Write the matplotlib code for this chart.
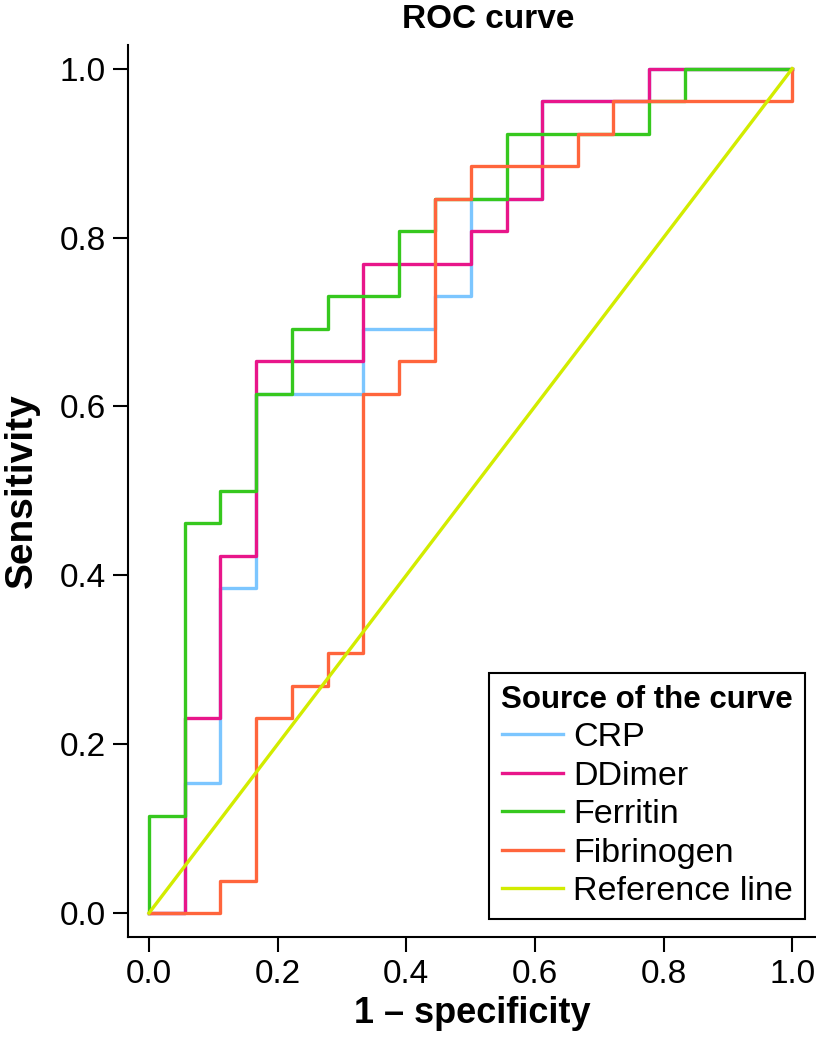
import matplotlib
matplotlib.use("Agg")
import matplotlib.pyplot as plt

# ROC points (steps-post staircase)
crp_fpr = [0.0, 0.056, 0.111, 0.167, 0.333, 0.444, 0.500, 0.611, 0.778, 1.0]
crp_tpr = [0.0, 0.154, 0.385, 0.615, 0.692, 0.731, 0.846, 0.962, 1.0, 1.0]

ddimer_fpr = [0.0, 0.056, 0.111, 0.167, 0.333, 0.500, 0.556, 0.611, 0.778, 1.0]
ddimer_tpr = [0.0, 0.231, 0.423, 0.654, 0.769, 0.808, 0.846, 0.962, 1.0, 1.0]

ferritin_fpr = [0.0, 0.0, 0.056, 0.111, 0.167, 0.222, 0.278, 0.389, 0.444, 0.556, 0.778, 0.833, 1.0]
ferritin_tpr = [0.0, 0.115, 0.462, 0.500, 0.615, 0.692, 0.731, 0.808, 0.846, 0.923, 0.962, 1.0, 1.0]

fibrinogen_fpr = [0.0, 0.111, 0.167, 0.222, 0.278, 0.333, 0.389, 0.444, 0.500, 0.667, 0.722, 1.0]
fibrinogen_tpr = [0.0, 0.038, 0.231, 0.269, 0.308, 0.615, 0.654, 0.846, 0.885, 0.923, 0.962, 1.0]

ref_x = [0.0, 1.0]
ref_y = [0.0, 1.0]

series = [
    ("CRP", crp_fpr, crp_tpr, "#7cc6ff"),
    ("DDimer", ddimer_fpr, ddimer_tpr, "#e8168a"),
    ("Ferritin", ferritin_fpr, ferritin_tpr, "#36c81e"),
    ("Fibrinogen", fibrinogen_fpr, fibrinogen_tpr, "#ff653c"),
]

plt.rcParams["font.family"] = ["Liberation Sans", "DejaVu Sans"]

fig = plt.figure(figsize=(8.16, 10.52), dpi=100)
ax = fig.add_axes([128 / 816, 1 - 937 / 1052, 688 / 816, 892 / 1052])

for name, xs, ys, col in series:
    ax.plot(xs, ys, drawstyle="steps-post", color=col, lw=2.4, label=name)
ax.plot(ref_x, ref_y, color="#d2ec00", lw=2.4, label="Reference line")

ax.set_xlim(-0.0327, 1.037)
ax.set_ylim(-0.0284, 1.028)
ax.set_xticks([0.0, 0.2, 0.4, 0.6, 0.8, 1.0])
ax.set_yticks([0.0, 0.2, 0.4, 0.6, 0.8, 1.0])
ax.tick_params(direction="out", length=11, width=1.5, labelsize=24, pad=5)

for s in ["top", "right"]:
    ax.spines[s].set_visible(False)
for s in ["left", "bottom"]:
    ax.spines[s].set_linewidth(1.5)

ax.set_xlabel("1 \u2013 specificity", fontsize=26, fontweight="bold", labelpad=4)
ax.set_ylabel("Sensitivity", fontsize=28, fontweight="bold", labelpad=14)
fig.text(488 / 816, 1 - 20 / 1052, "ROC curve", ha="center", va="center",
         fontsize=24, fontweight="bold")

leg = ax.legend(loc="lower right", bbox_to_anchor=(0.984, 0.020), borderaxespad=0,
                title="Source of the curve",
                title_fontproperties={"weight": "bold", "size": 22.5},
                fontsize=24.5, fancybox=False, framealpha=1, edgecolor="black",
                handlelength=1.8, handletextpad=0.3, labelspacing=0.22,
                borderpad=0.35)
leg.get_frame().set_linewidth(1.5)

fig.savefig("out.png", dpi=100)
